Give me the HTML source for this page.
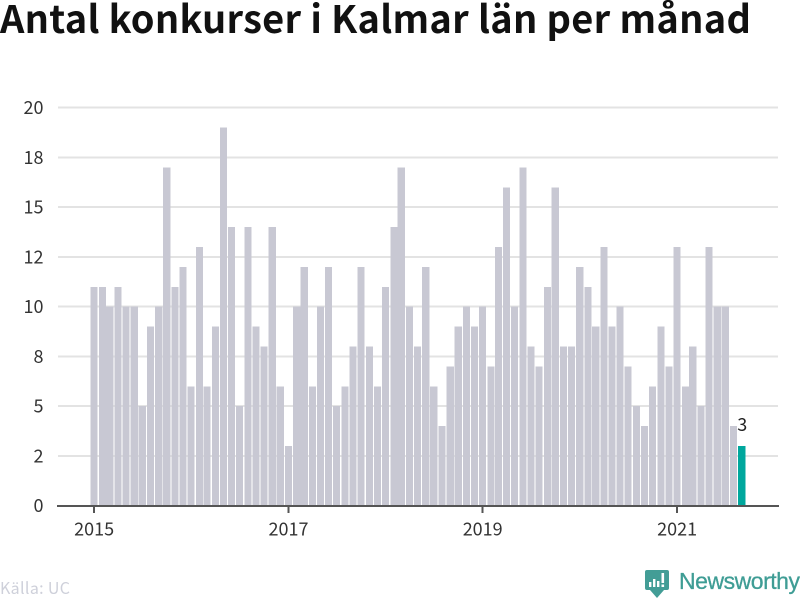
<!DOCTYPE html>
<html lang="sv">
<head>
<meta charset="utf-8">
<title>Antal konkurser i Kalmar län per månad</title>
<style>
  html, body { margin: 0; padding: 0; background: #fff; }
  svg { display: block; font-family: "Liberation Sans", "Noto Sans CJK JP", sans-serif; }
  .num { font-family: "Noto Sans CJK JP", "Liberation Sans", sans-serif; font-size: 18px; fill: #333; }
</style>
</head>
<body>
<svg id="chart" width="800" height="600" viewBox="0 0 800 600" xmlns="http://www.w3.org/2000/svg">
  <rect width="800" height="600" fill="#fff"/>
  <text x="0" y="33" textLength="751" style="font-family:'Noto Sans CJK JP','Liberation Sans',sans-serif;font-weight:700;font-size:38px" fill="#111">Antal konkurser i Kalmar län per månad</text>
  <g id="grid"></g>
  <g id="bars"></g>
  <g id="axis"></g>
  <g id="ylabels"></g>
  <g id="annot"></g>
  <text x="0" y="594" textLength="70" style="font-family:'Noto Sans CJK JP','Liberation Sans',sans-serif;font-size:16px" fill="#ced0da">Källa: UC</text>
  <g>
    <path d="M647 570H667Q669 570 669 572V588Q669 590 667 590H664L657 598L650 590H647Q645 590 645 588V572Q645 570 647 570Z" fill="#439d96"/>
    <g fill="#fff">
      <rect x="649" y="582" width="2.4" height="5"/>
      <rect x="653" y="579" width="2.4" height="8"/>
      <rect x="657" y="581" width="2.4" height="6"/>
      <rect x="661.5" y="573" width="2.6" height="10"/>
      <rect x="661.5" y="584.5" width="2.6" height="2.5"/>
    </g>
    <text x="679" y="589" textLength="121" font-size="23" fill="#3f9d95" stroke="#3f9d95" stroke-width="0.3">Newsworthy</text>
  </g>
</svg>
<script>
const months = [
  "2015-01","2015-02","2015-03","2015-04","2015-05","2015-06","2015-07","2015-08","2015-09","2015-10","2015-11","2015-12",
  "2016-01","2016-02","2016-03","2016-04","2016-05","2016-06","2016-07","2016-08","2016-09","2016-10","2016-11","2016-12",
  "2017-01","2017-02","2017-03","2017-04","2017-05","2017-06","2017-07","2017-08","2017-09","2017-10","2017-11","2017-12",
  "2018-01","2018-02","2018-03","2018-04","2018-05","2018-06","2018-07","2018-08","2018-09","2018-10","2018-11","2018-12",
  "2019-01","2019-02","2019-03","2019-04","2019-05","2019-06","2019-07","2019-08","2019-09","2019-10","2019-11","2019-12",
  "2020-01","2020-02","2020-03","2020-04","2020-05","2020-06","2020-07","2020-08","2020-09","2020-10","2020-11","2020-12",
  "2021-01","2021-02","2021-03","2021-04","2021-05","2021-06","2021-07","2021-08","2021-09"
];
const values = [
  11,11,10,11,10,10,5,9,10,17,11,12,
  6,13,6,9,19,14,5,14,9,8,14,6,
  3,10,12,6,10,12,5,6,8,12,8,6,
  11,14,17,10,8,12,6,4,7,9,10,9,
  10,7,13,16,10,17,8,7,11,16,8,8,
  12,11,9,13,9,10,7,5,4,6,9,7,
  13,6,8,5,13,10,10,4,3
];
const yTicks = [0, 2.5, 5, 7.5, 10, 12.5, 15, 17.5, 20];
const yTickLabels = ["0", "2", "5", "8", "10", "12", "15", "18", "20"];
const xTicks = ["2015-01", "2017-01", "2019-01", "2021-01"];
const xTickLabels = ["2015", "2017", "2019", "2021"];

const NS = "http://www.w3.org/2000/svg";
const y0 = 505.7, pxPerUnit = 19.9;
const x0 = 94.1, pxPerDay = 583 / 2192, barW = 7.1;

function yScale(v) { return y0 - v * pxPerUnit; }
function xScale(m) {
  const p = m.split("-");
  const days = (Date.UTC(+p[0], +p[1] - 1, 1) - Date.UTC(2015, 0, 1)) / 86400000;
  return x0 + days * pxPerDay;
}
function make(tag, parent, attrs, text) {
  const el = document.createElementNS(NS, tag);
  for (const k in attrs) el.setAttribute(k, attrs[k]);
  if (text !== undefined) el.textContent = text;
  parent.appendChild(el);
  return el;
}

const grid = document.getElementById("grid");
const barsG = document.getElementById("bars");
const axis = document.getElementById("axis");
const ylabels = document.getElementById("ylabels");
const annot = document.getElementById("annot");

yTicks.forEach(function (t, i) {
  if (t !== 0) {
    const line = make("rect", grid, { x: 58, y: yScale(t) - 1, width: 720, height: 2, fill: "#e3e3e3", "shape-rendering": "crispEdges" });
    
    
  }
  const lab = make("text", ylabels, { x: 43.5, y: yScale(t) + 6.5, "text-anchor": "end", "class": "num" }, yTickLabels[i]);
  
  
});

values.forEach(function (v, i) {
  const last = i === values.length - 1;
  const r = make("rect", barsG, {
    x: xScale(months[i]) - barW / 2,
    y: yScale(v),
    width: barW,
    height: y0 - yScale(v),
    fill: last ? "#00a79d" : "#c8c8d3",
    "shape-rendering": "crispEdges"
  });
  
  
});

const axisLine = make("rect", axis, { x: 57, y: y0 - 0.7, width: 722, height: 2, fill: "#555", "shape-rendering": "crispEdges" });



xTicks.forEach(function (m, i) {
  const x = xScale(m);
  const tick = make("rect", axis, { x: x - 1, y: y0, width: 2, height: 7.5, fill: "#555", "shape-rendering": "crispEdges" });
  
  
  const lab = make("text", axis, { x: x, y: 535.5, "text-anchor": "middle", "class": "num" }, xTickLabels[i]);
  
  
});

const lastIdx = values.length - 1;
const valueLabel = make("text", annot, {
  x: xScale(months[lastIdx]) + 0.5,
  y: yScale(values[lastIdx]) - 15,
  "text-anchor": "middle",
  "class": "num",
  style: "fill:#222"
}, String(values[lastIdx]));


</script>
</body>
</html>
